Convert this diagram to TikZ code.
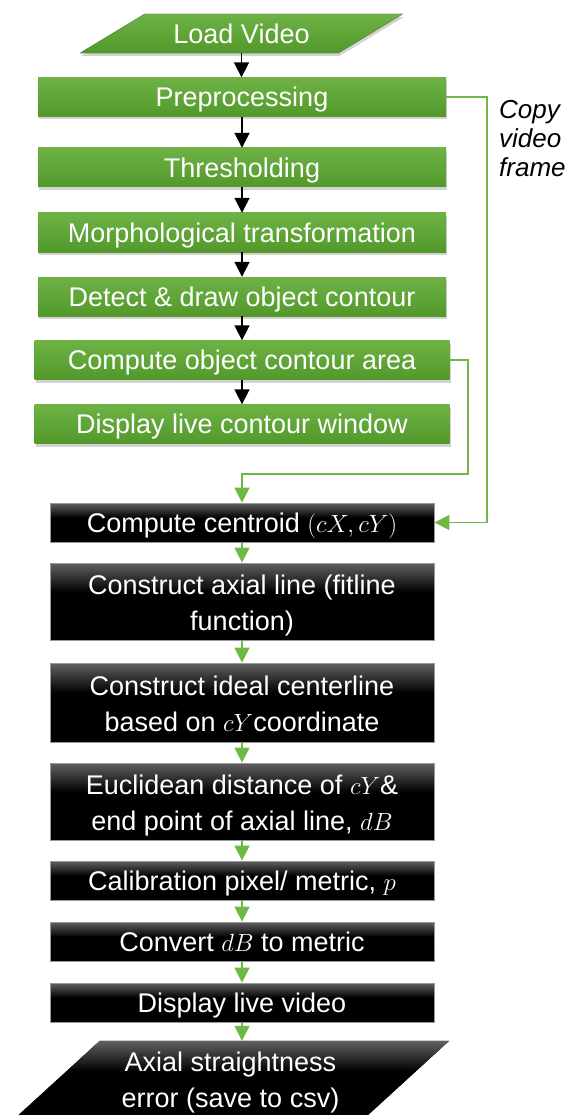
\documentclass[tikz,border=0pt]{standalone}
\usepackage{fontspec}
\setmainfont{Liberation Sans}
\usetikzlibrary{arrows.meta,shadows,backgrounds}

\definecolor{boxgreen}{RGB}{82,152,42}
\definecolor{boxgreenhi}{RGB}{110,178,70}
\definecolor{linegreen}{RGB}{110,184,70}
\pgfdeclareverticalshading{blackbox}{100bp}{color(0bp)=(black); color(25bp)=(black);
    color(56bp)=(black); color(75bp)=(black!62); color(100bp)=(black!62)}

\begin{document}
\begin{tikzpicture}[x=1pt,y=-1pt,font=\fontsize{27}{36}\selectfont]
        \tikzstyle{green fill}=[top color=boxgreenhi,bottom color=boxgreen,
            drop shadow={shadow xshift=1pt,shadow yshift=-3pt,opacity=0.35}]
        \tikzstyle{black fill}=[shade,shading=blackbox]
        \tikzstyle{block}=[rectangle,minimum height=39pt,inner sep=0pt,text=white,align=center,
            text height=19.3pt,text depth=0pt]
        \tikzstyle{two lines}=[text height=58pt,text depth=0pt]
        \tikzstyle{green block}=[block,green fill,minimum width=408pt]
        \tikzstyle{black block}=[block,black fill,minimum width=384pt,draw=black!40,line width=0.8pt]
        \tikzstyle{io}=[block]
        \tikzstyle{annot}=[font=\fontsize{26}{29}\selectfont\itshape,align=left,anchor=north west,inner sep=0pt]
        \tikzstyle{black arrow}=[-{Triangle[width=15pt,length=15pt]},line width=1.8pt,black]
        \tikzstyle{green arrow}=[-{Triangle[width=15pt,length=15pt]},line width=1.5pt,linegreen]
        \useasboundingbox (0,0) rectangle (581,1115);
        % green part
        \node[io,minimum width=323pt] (load) at (241.5,33.5) {Load Video};
        \node[green block] (prep) at (242,97) {Preprocessing};
        \node[green block] (thresh) at (242,167.5) {Thresholding};
        \node[green block] (morph) at (242,232.5) {Morphological transformation};
        \node[green block] (detect) at (242,296.5) {Detect \& draw object contour};
        \node[green block,minimum width=415pt] (area) at (242,360) {Compute object contour area};
        \node[green block,minimum width=415pt] (live) at (242,424) {Display live contour window};
        % black part
        \node[black block] (centroid) at (242,522.5) {Compute centroid $(cX,cY)$};
        \node[black block,two lines,minimum height=77pt] (axial) at (242,601.5) {Construct axial line (fitline\\function)};
        \node[black block,two lines,minimum height=79pt] (ideal) at (242,702.5) {Construct ideal centerline\\based on $cY$coordinate};
        \node[black block,two lines,minimum height=77pt] (euclid) at (242,801.5) {Euclidean distance of $cY$\&\\end point of axial line, $dB$};
        \node[black block] (calib) at (242,880.5) {Calibration pixel/ metric, $p$};
        \node[black block] (convert) at (242,941.5) {Convert $dB$ to metric};
        \node[black block] (video) at (242,1002.5) {Display live video};
        \node[io,text height=52pt,minimum width=437pt,minimum height=80pt] (save) at (230.5,1081) {Axial straightness\\error (save to csv)};
        \node[annot] (copytxt) at (499,100) {Copy\\video\\frame};
        % slanted input/output boxes
        \begin{scope}[on background layer]
            \fill[green fill] ([xshift=65pt]load.north west) -- (load.north east)
                -- ([xshift=-65pt]load.south east) -- (load.south west) -- cycle;
            \fill[black fill] ([xshift=88pt]save.north west) -- (save.north east)
                -- ([xshift=-88pt]save.south east) -- (save.south west) -- cycle;
        \end{scope}
        \foreach \a/\b in {load/prep,prep/thresh,thresh/morph,morph/detect,detect/area,area/live}
            \draw[black arrow] (\a.south) -- (\a.south |- \b.north);
        \foreach \a/\b in {centroid/axial,axial/ideal,ideal/euclid,euclid/calib,calib/convert,convert/video,video/save}
            \draw[green arrow] (\a.south) -- (\a.south |- \b.north);
        \coordinate (cpy) at (487,300);
        \coordinate (join) at (468,474);
        \draw[green arrow] (prep.east) -| (cpy) |- (centroid.east);
        \draw[green arrow] (area.east) -| (join) -| (centroid.north);
\end{tikzpicture}
\end{document}
